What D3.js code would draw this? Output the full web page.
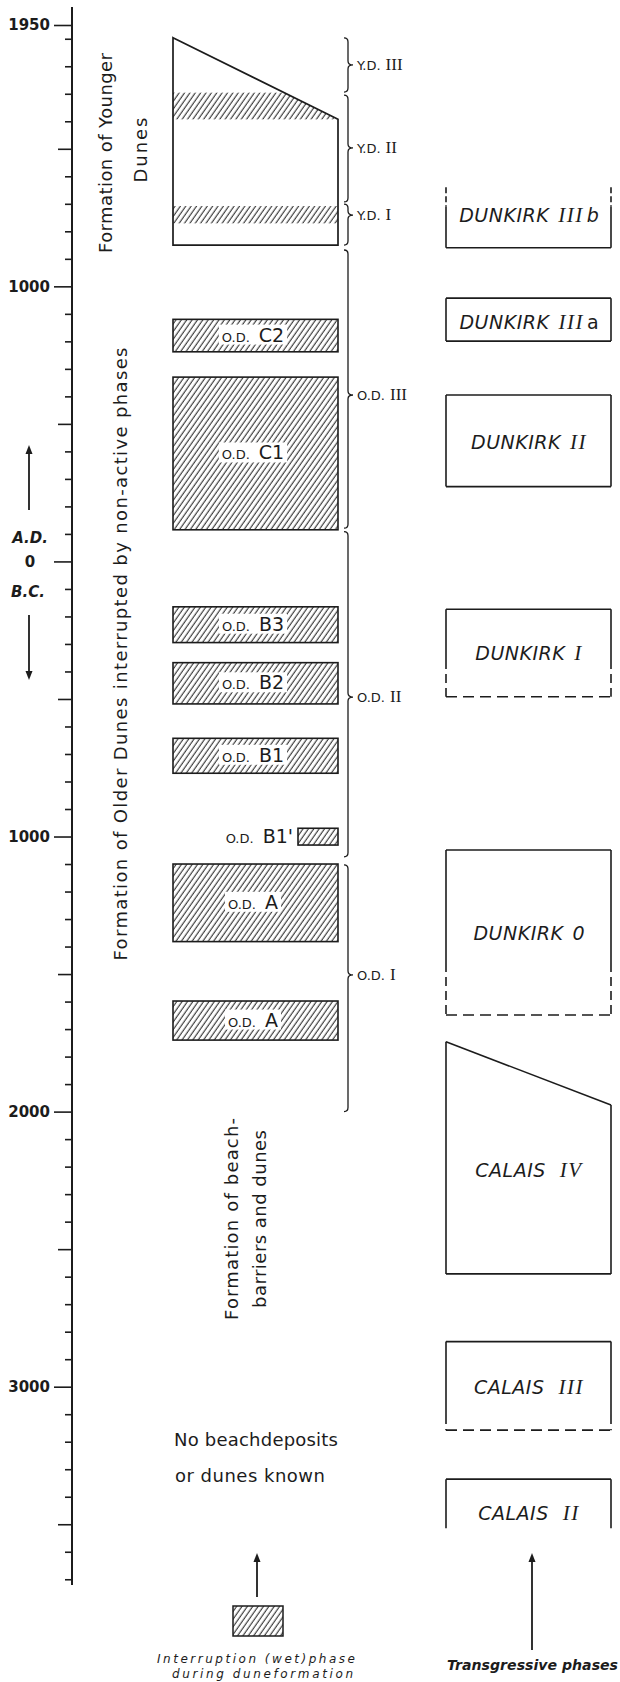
<!DOCTYPE html>
<html><head><meta charset="utf-8">
<script src="https://cdn.jsdelivr.net/npm/d3@7"></script>
<style>
html,body{margin:0;padding:0;background:#fff;}
svg{display:block;}
</style></head><body>
<svg id="chart" width="620" height="1682"></svg>
<script>
// ---------------- data ----------------
const axisTicks = d3.range(1900, -3800, -100).concat([1950]);
const labeledTicks = [1950, 1000, 0, -1000, -2000, -3000];
const halfTicks = [1500, 500, -500, -1500, -2500, -3500];

// Younger dunes block
const ydTopLeft = 1904, ydTopRight = 1607, ydBottom = 1150;
const ydBandTop = [1704, 1292];
const ydBandBottom = [1607, 1229];

// Older dunes interruption (wet) phases
const odNames = ["C2", "C1", "B3", "B2", "B1", "B1'", "A", "A"];
const odTop = [880, 670, -165, -368, -643, -970, -1100, -1598];
const odBottom = [762, 115, -295, -518, -770, -1031, -1382, -1740];

// Braces
const bracePrefix = ["Y.D.", "Y.D.", "Y.D.", "O.D.", "O.D.", "O.D."];
const braceNum = ["III", "II", "I", "III", "II", "I"];
const braceTop = [1903, 1695, 1299, 1132, 108, -1103];
const braceBottom = [1706, 1307, 1150, 121, -1074, -2000];
const braceTip = [1805, 1503, 1259, 605, -493, -1503];

// Transgressive phases
const trName = ["DUNKIRK", "DUNKIRK", "DUNKIRK", "DUNKIRK", "DUNKIRK", "CALAIS", "CALAIS", "CALAIS"];
const trNum = ["III", "III", "II", "I", "0", "IV", "III", "II"];
const trSuffix = ["b", "a", "", "", "", "", "", ""];
const trTopL = [1360, 957, 605, -174, -1049, -1746, -2836, -3336];
const trTopR = [1360, 957, 605, -174, -1049, -1976, -2836, -3336];
const trSolidStart = [1290, 957, 605, -174, -1049, -1746, -2836, -3336];
const trSolidEnd = [1140, 801, 272, -358, -1460, -2590, -3103, -3515];
const trBottom = [1140, 801, 272, -492, -1649, -2590, -3158, -3515];
const trTopEdge = ["none", "solid", "solid", "solid", "solid", "solid", "solid", "solid"];
const trBottomEdge = ["solid", "solid", "solid", "dashed", "dashed", "solid", "dashed", "none"];
const trLabelAt = [1259, 871, 435, -333, -1350, -2212, -3000, -3459];

// ---------------- drawing ----------------
const ink = "#1c1c1c";
const sans = "'DejaVu Sans', sans-serif";
const serif = "'Liberation Serif', serif";
const svg = d3.select("#chart");
svg.append("rect").attr("width", 620).attr("height", 1682).attr("fill", "#fff");

const y = d3.scaleLinear().domain([1950, -3000]).range([25, 1386.7]);
const axisX = 72;

const defs = svg.append("defs");
const pat = defs.append("pattern").attr("id", "hatch")
  .attr("patternUnits", "userSpaceOnUse").attr("width", 4.4).attr("height", 10)
  .attr("patternTransform", "rotate(35)");
pat.append("rect").attr("width", 4.4).attr("height", 10).attr("fill", "#fff");
pat.append("line").attr("x1", 2).attr("x2", 2).attr("y1", -1).attr("y2", 11)
  .attr("stroke", ink).attr("stroke-width", 1.0);

// axis
const axis = d3.axisLeft(y).tickValues(axisTicks).tickSizeOuter(0).tickSize(7)
  .tickFormat(d => (labeledTicks.includes(d) && d !== 0) ? String(Math.abs(d)) : "");
const gA = svg.append("g").attr("transform", `translate(${axisX},0)`).call(axis)
  .attr("font-family", sans).attr("font-size", 15);
gA.select(".domain").remove();
gA.selectAll(".tick line")
  .attr("x2", d => labeledTicks.includes(d) ? -18 : halfTicks.includes(d) ? -14 : -7)
  .attr("stroke", ink).attr("stroke-width", 1.6);
gA.selectAll(".tick text").attr("x", -22).attr("fill", ink).attr("font-weight", "bold");
svg.append("line").attr("x1", axisX).attr("x2", axisX).attr("y1", 7).attr("y2", 1585)
  .attr("stroke", ink).attr("stroke-width", 2);

// A.D. / 0 / B.C.
svg.append("text").attr("x", 30).attr("y", 543).attr("text-anchor", "middle")
  .attr("font-family", sans).attr("font-size", 15).attr("font-weight", "bold")
  .attr("font-style", "italic").attr("fill", ink).text("A.D.");
svg.append("text").attr("x", 30).attr("y", y(0) + 6).attr("text-anchor", "middle")
  .attr("font-family", sans).attr("font-size", 15).attr("font-weight", "bold")
  .attr("fill", ink).text("0");
svg.append("text").attr("x", 28).attr("y", 597).attr("text-anchor", "middle")
  .attr("font-family", sans).attr("font-size", 15).attr("font-weight", "bold")
  .attr("font-style", "italic").attr("fill", ink).text("B.C.");

function arrow(x, yFrom, yTo) {
  const dir = yTo < yFrom ? -1 : 1;
  svg.append("line").attr("x1", x).attr("x2", x).attr("y1", yFrom).attr("y2", yTo - dir * 6)
    .attr("stroke", ink).attr("stroke-width", 1.8);
  svg.append("path").attr("d", `M${x},${yTo} L${x - 3.5},${yTo - dir * 9} L${x + 3.5},${yTo - dir * 9} Z`)
    .attr("fill", ink);
}
arrow(29, 510, 445);
arrow(29, 615, 680);

// rotated texts
function vtext(x, cy, str, len, size) {
  svg.append("text").attr("transform", `translate(${x},${cy}) rotate(-90)`)
    .attr("text-anchor", "middle").attr("font-family", sans).attr("font-size", size || 18)
    .attr("fill", ink).attr("textLength", len).attr("lengthAdjust", "spacing").text(str);
}
vtext(112, 153, "Formation of Younger", 200);
vtext(147, 150, "Dunes", 65);
vtext(127, 654, "Formation of Older Dunes interrupted by non-active phases", 613);
vtext(238, 1219, "Formation of beach-", 202);
vtext(266, 1219, "barriers and dunes", 178);

// No beachdeposits
svg.append("text").attr("x", 174).attr("y", 1446).attr("font-family", sans).attr("font-size", 18)
  .attr("fill", ink).attr("textLength", 164).attr("lengthAdjust", "spacing").text("No beachdeposits");
svg.append("text").attr("x", 175).attr("y", 1482).attr("font-family", sans).attr("font-size", 18)
  .attr("fill", ink).attr("textLength", 150).attr("lengthAdjust", "spacing").text("or dunes known");

// Younger dunes block
const bx0 = 173, bx1 = 338;
const ydPts = [[bx0, y(ydTopLeft)], [bx1, y(ydTopRight)], [bx1, y(ydBottom)], [bx0, y(ydBottom)]];
defs.append("clipPath").attr("id", "ydclip").append("path").attr("d", d3.line()(ydPts) + "Z");
svg.append("path").attr("d", d3.line()(ydPts) + "Z").attr("fill", "#fff");
svg.append("g").attr("clip-path", "url(#ydclip)").selectAll("rect")
  .data(d3.range(ydBandTop.length)).join("rect")
  .attr("x", bx0).attr("width", bx1 - bx0)
  .attr("y", i => y(ydBandTop[i])).attr("height", i => y(ydBandBottom[i]) - y(ydBandTop[i]))
  .attr("fill", "url(#hatch)");
svg.append("path").attr("d", d3.line()(ydPts) + "Z").attr("fill", "none")
  .attr("stroke", ink).attr("stroke-width", 1.7);

// OD boxes
odNames.forEach((n, i) => {
  const small = n === "B1'";
  const x0 = small ? 298 : bx0;
  const y0 = y(odTop[i]), y1 = y(odBottom[i]);
  svg.append("rect").attr("x", x0).attr("y", y0).attr("width", bx1 - x0).attr("height", y1 - y0)
    .attr("fill", "url(#hatch)").attr("stroke", ink).attr("stroke-width", 1.6);
  const cy = (y0 + y1) / 2;
  const g = svg.append("g");
  const t = g.append("text").attr("y", cy + 6).attr("font-family", sans).attr("fill", ink);
  t.append("tspan").attr("font-size", 13).text("O.D.");
  t.append("tspan").attr("font-size", 19).attr("dx", 9).text(n);
  if (small) {
    t.attr("x", 293).attr("text-anchor", "end");
  } else {
    t.attr("x", 253).attr("text-anchor", "middle");
    const bb = t.node().getBBox();
    g.insert("rect", "text").attr("x", bb.x - 3).attr("y", bb.y + 1).attr("width", bb.width + 6)
      .attr("height", bb.height - 2).attr("fill", "#fff");
  }
});

// braces
const braceX = 348;
bracePrefix.forEach((p, i) => {
  const y0 = y(braceTop[i]), y1 = y(braceBottom[i]), ym = y(braceTip[i]);
  const x = braceX, c = 4;
  const d = `M${x - c},${y0} Q${x},${y0} ${x},${y0 + c} L${x},${ym - c} Q${x},${ym} ${x + c + 1},${ym}` +
            ` Q${x},${ym} ${x},${ym + c} L${x},${y1 - c} Q${x},${y1} ${x - c},${y1}`;
  svg.append("path").attr("d", d).attr("fill", "none").attr("stroke", ink).attr("stroke-width", 1.3);
  const t = svg.append("text").attr("x", 357).attr("y", ym + 5).attr("fill", ink);
  t.append("tspan").attr("font-family", sans).attr("font-size", 13).text(p);
  t.append("tspan").attr("font-family", serif).attr("font-size", 17).attr("dx", 5).text(braceNum[i]);
});

// transgressive phases
const tx0 = 446, tx1 = 611;
function seg(x1, y1, x2, y2, dash) {
  const l = svg.append("line").attr("x1", x1).attr("y1", y1).attr("x2", x2).attr("y2", y2)
    .attr("stroke", ink).attr("stroke-width", 1.6);
  if (dash) l.attr("stroke-dasharray", dash);
}
trName.forEach((nm, i) => {
  [[tx0, trTopL[i]], [tx1, trTopR[i]]].forEach(([x, top]) => {
    const solidFrom = Math.min(top, trSolidStart[i]);
    if (top > solidFrom) seg(x, y(top), x, y(solidFrom), "6,3");
    seg(x, y(solidFrom), x, y(trSolidEnd[i]));
    if (trBottom[i] < trSolidEnd[i]) seg(x, y(trSolidEnd[i]), x, y(trBottom[i]), "9,5");
  });
  if (trTopEdge[i] === "solid") seg(tx0, y(trTopL[i]), tx1, y(trTopR[i]));
  if (trBottomEdge[i] === "solid") seg(tx0, y(trBottom[i]), tx1, y(trBottom[i]));
  if (trBottomEdge[i] === "dashed") seg(tx0, y(trBottom[i]), tx1, y(trBottom[i]), "11,6");
  const t = svg.append("text").attr("x", 529).attr("y", y(trLabelAt[i]) + 7)
    .attr("text-anchor", "middle").attr("fill", ink).attr("font-style", "italic");
  t.append("tspan").attr("font-family", sans).attr("font-size", 19).attr("letter-spacing", 0.5).text(nm);
  const roman = /^[IVX]+$/.test(trNum[i]);
  t.append("tspan").attr("dx", nm === "CALAIS" ? 14 : 9)
    .attr("font-family", roman ? serif : sans).attr("font-size", roman ? 21 : 19)
    .attr("letter-spacing", roman ? 1.5 : 0).text(trNum[i]);
  if (trSuffix[i]) t.append("tspan").attr("dx", 3).attr("font-family", sans)
    .attr("font-size", 19).attr("font-style", trSuffix[i] === "a" ? "normal" : "italic").text(trSuffix[i]);
});

// legend
arrow(257, 1597, 1553);
svg.append("rect").attr("x", 233).attr("y", 1606).attr("width", 50).attr("height", 30)
  .attr("fill", "url(#hatch)").attr("stroke", ink).attr("stroke-width", 1.5);
svg.append("text").attr("x", 157).attr("y", 1663).attr("font-family", sans).attr("font-size", 12)
  .attr("font-style", "italic").attr("fill", ink).attr("textLength", 198).attr("lengthAdjust", "spacing")
  .text("Interruption (wet)phase");
svg.append("text").attr("x", 172).attr("y", 1678).attr("font-family", sans).attr("font-size", 12)
  .attr("font-style", "italic").attr("fill", ink).attr("textLength", 181).attr("lengthAdjust", "spacing")
  .text("during duneformation");
arrow(532, 1650, 1553);
svg.append("text").attr("x", 447).attr("y", 1670).attr("font-family", sans).attr("font-size", 14)
  .attr("font-style", "italic").attr("font-weight", "bold").attr("fill", ink)
  .attr("textLength", 171).attr("lengthAdjust", "spacingAndGlyphs").text("Transgressive phases");
</script>
</body></html>
